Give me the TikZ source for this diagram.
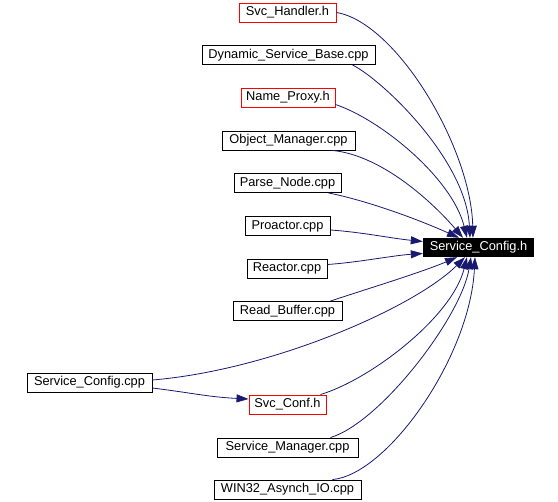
\documentclass[tikz,border=0pt]{standalone}
\usepackage{fontspec}
\setmainfont{Liberation Sans}
\usetikzlibrary{arrows.meta}
\definecolor{edgeblue}{HTML}{191970}
\definecolor{filered}{HTML}{FF0000}
\begin{document}
\begin{tikzpicture}[x=1pt, y=-1pt, >={Triangle[length=12pt,width=8pt]},
    every node/.style={font=\fontsize{12.8}{14}\selectfont},
    filebox/.style={draw=black, line width=0.9pt, inner sep=0pt, minimum height=19pt},
    redbox/.style={filebox, draw=filered},
    mainbox/.style={fill=black, text=white, inner sep=0pt, minimum height=19pt},
    edge/.style={->, edgeblue, line width=0.8pt}]

\useasboundingbox (0,0) rectangle (558,502);

% =============================================
% ARCHIVOS QUE INCLUYEN
% =============================================
\node[redbox, minimum width=97pt]  (svch)    at (287.5, 12.5)  {Svc\_Handler.h};
\node[filebox, minimum width=173pt] (dynsb)  at (288.5, 55)    {Dynamic\_Service\_Base.cpp};
\node[redbox, minimum width=94pt]  (namep)   at (288, 97.5)    {Name\_Proxy.h};
\node[filebox, minimum width=133pt] (objm)   at (288.5, 140.5) {Object\_Manager.cpp};
\node[filebox, minimum width=107pt] (parsen) at (287.5, 183)   {Parse\_Node.cpp};
\node[filebox, minimum width=85pt]  (proa)   at (287.5, 226)   {Proactor.cpp};
\node[filebox, minimum width=80pt]  (reac)   at (287, 268.5)   {Reactor.cpp};
\node[filebox, minimum width=109pt] (readb)  at (287.5, 311)   {Read\_Buffer.cpp};
\node[filebox, minimum width=125pt] (cfgcpp) at (89.5, 382.5)  {Service\_Config.cpp};
\node[redbox, minimum width=77pt]  (svcconf) at (287.5, 404.5) {Svc\_Conf.h};
\node[filebox, minimum width=141pt] (smgr)   at (287.5, 447.5) {Service\_Manager.cpp};
\node[filebox, minimum width=147pt] (win32)  at (287.5, 489.5) {WIN32\_Asynch\_IO.cpp};

% Cabecera principal
\node[mainbox, minimum width=111pt] (cfgh) at (478.5, 247.5) {Service\_Config.h};

% =============================================
% DEPENDENCIAS
% =============================================
\draw[edge] (svch.east) .. controls +(60,10) and +(-2,-90) .. ([xshift=-5.5pt]cfgh.north);
\draw[edge] ([xshift=-23pt]dynsb.south east) .. controls +(30,15) and +(-4,-78) .. ([xshift=-8.5pt]cfgh.north);
\draw[edge] ([yshift=-7pt]namep.east) .. controls +(45,15) and +(-15,-60) .. ([xshift=-11.5pt]cfgh.north);
\draw[edge] ([xshift=-23pt]objm.south east) .. controls +(50,5) and +(-30,-35) .. ([xshift=-15.5pt]cfgh.north);
\draw[edge] ([xshift=-13pt]parsen.south east) .. controls +(40,8) and +(-40,-18) .. ([xshift=-19.5pt]cfgh.north);
\draw[edge] ([yshift=-4pt]proa.east) .. controls +(30,2) and +(-30,-3) .. ([yshift=6pt]cfgh.west);
\draw[edge] ([yshift=4pt]reac.east) .. controls +(30,-2) and +(-30,2) .. ([yshift=-6pt]cfgh.west);
\draw[edge] ([xshift=-12pt]readb.north east) .. controls +(30,-10) and +(-35,15) .. ([xshift=-21.5pt]cfgh.south);
\draw[edge] ([yshift=2.5pt]cfgcpp.east) .. controls +(120,-10) and +(-50,50) .. ([xshift=-13.5pt]cfgh.south);
\draw[edge] ([yshift=-5.5pt]cfgcpp.east) .. controls +(40,5) and +(-40,-2) .. ([yshift=5.5pt]svcconf.west);
\draw[edge] ([xshift=-6pt]svcconf.north east) .. controls +(50,-15) and +(-15,60) .. ([xshift=-11.5pt]cfgh.south);
\draw[edge] ([xshift=-28pt]smgr.north east) .. controls +(50,-15) and +(-10,60) .. ([xshift=-7.5pt]cfgh.south);
\draw[edge] ([xshift=-29pt]win32.north east) .. controls +(55,-5) and +(-5,100) .. ([xshift=-3.5pt]cfgh.south);

\end{tikzpicture}
\end{document}
